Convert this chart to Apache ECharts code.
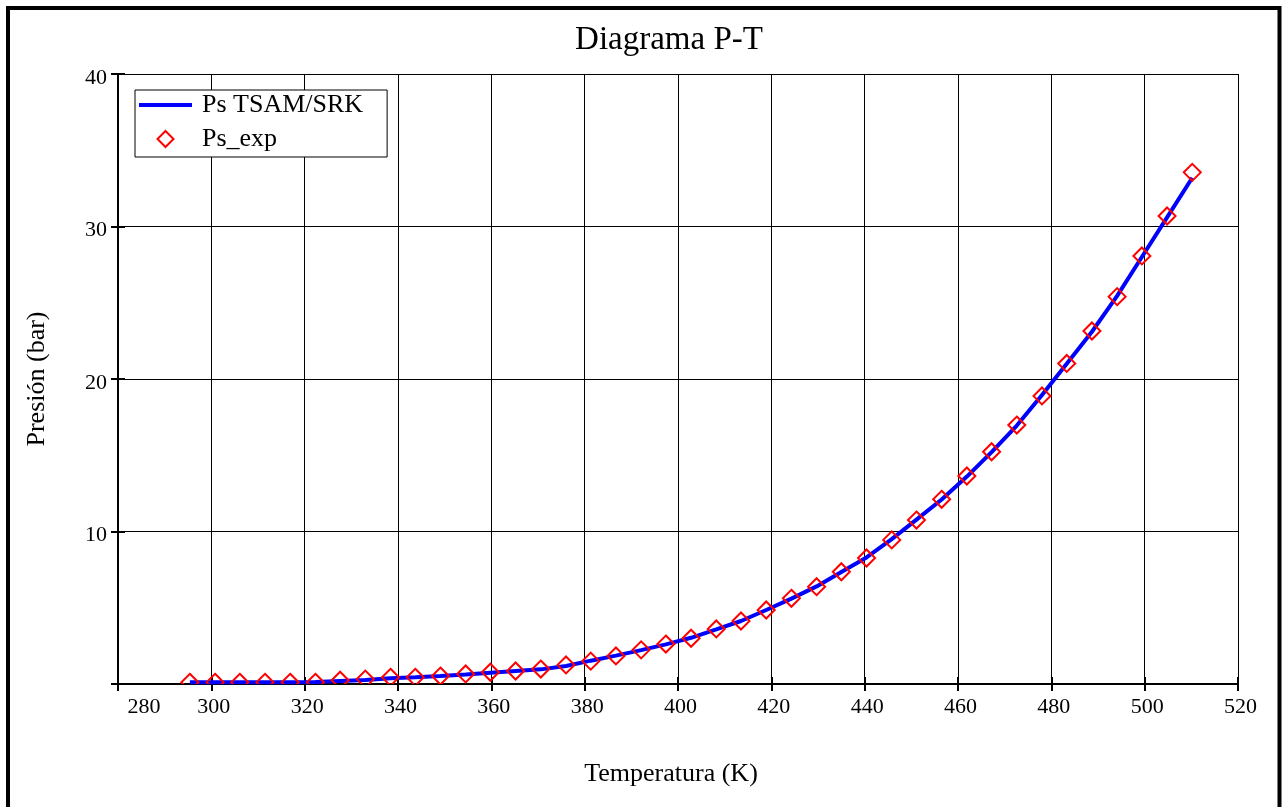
<!DOCTYPE html>
<html>
<head>
<meta charset="utf-8">
<script src="https://cdn.jsdelivr.net/npm/echarts@6/dist/echarts.min.js"></script>
<style>
html,body{margin:0;padding:0;background:#fff;}
#chart{width:1284px;height:807px;}
</style>
</head>
<body>
<div id="chart"></div>
<script>
// Temperatures (K)
const temps = [295.4, 300.8, 306.1, 311.5, 316.9, 322.3, 327.6, 333.0, 338.4, 343.7,
  349.1, 354.5, 359.8, 365.2, 370.6, 376.0, 381.3, 386.7, 392.1, 397.4,
  402.8, 408.2, 413.5, 418.9, 424.3, 429.7, 435.0, 440.4, 445.8, 451.1,
  456.5, 461.9, 467.2, 472.6, 478.0, 483.3, 488.7, 494.1, 499.4, 504.8, 510.2];
// Model saturation pressure (bar) - Ps TSAM/SRK
const psModel = [0.12, 0.12, 0.12, 0.12, 0.12, 0.13, 0.20, 0.27, 0.37, 0.44,
  0.52, 0.62, 0.74, 0.85, 0.96, 1.18, 1.53, 1.86, 2.22, 2.60,
  3.03, 3.58, 4.13, 4.85, 5.60, 6.40, 7.35, 8.30, 9.50, 10.78,
  12.10, 13.60, 15.20, 16.95, 18.95, 21.00, 23.10, 25.45, 28.00, 30.60, 33.20];
// Experimental saturation pressure (bar) - Ps_exp
const psExp = [0.11, 0.11, 0.11, 0.11, 0.11, 0.11, 0.25, 0.32, 0.44, 0.44,
  0.52, 0.66, 0.77, 0.85, 0.98, 1.25, 1.50, 1.84, 2.24, 2.62,
  3.00, 3.61, 4.13, 4.85, 5.62, 6.38, 7.36, 8.26, 9.45, 10.75,
  12.11, 13.64, 15.23, 16.98, 18.89, 21.02, 23.15, 25.40, 28.07, 30.69, 33.55];
const xTicks = [280, 300, 320, 340, 360, 380, 400, 420, 440, 460, 480, 500, 520];
const yTicks = [0, 10, 20, 30, 40];

const FONT = 'Liberation Serif';
const modelData = temps.map((t, i) => [t, psModel[i]]);
const expData = temps.map((t, i) => [t, psExp[i]]);

const chart = echarts.init(document.getElementById('chart'), null, {renderer: 'canvas'});
const option = {
  backgroundColor: '#ffffff',
  animation: false,
  title: {
    text: 'Diagrama P-T',
    left: 669,
    top: 24,
    padding: 0,
    textAlign: 'center',
    textStyle: {fontFamily: FONT, fontSize: 33, fontWeight: 'normal', color: '#000'}
  },
  legend: {
    orient: 'vertical',
    left: 135,
    top: 90,
    padding: [2, 24, 5, 2],
    itemGap: 8,
    itemWidth: 53,
    itemHeight: 16,
    borderColor: '#000',
    borderWidth: 1,
    backgroundColor: '#fff',
    textStyle: {fontFamily: FONT, fontSize: 26, color: '#000', padding: [0, 0, 0, 5]},
    data: [
      {name: 'Ps TSAM/SRK', lineStyle: {width: 4, color: '#0000ff'},
       itemStyle: {color: 'rgba(0,0,0,0)', borderColor: 'rgba(0,0,0,0)', borderWidth: 0}},
      {name: 'Ps_exp', icon: 'path://M0,-1L1,0L0,1L-1,0Z',
       itemStyle: {color: 'none', borderColor: '#ff0000', borderWidth: 2}}
    ]
  },
  grid: {left: 118, right: 46, top: 74, bottom: 123, containLabel: false},
  xAxis: [{
    type: 'value', min: xTicks[0], max: xTicks[xTicks.length - 1], interval: 20,
    name: 'Temperatura (K)', nameLocation: 'middle', nameGap: 77,
    nameTextStyle: {fontFamily: FONT, fontSize: 26, color: '#000', padding: [0, 14, 0, 0]},
    axisLine: {show: true, onZero: false, lineStyle: {color: '#000', width: 2}},
    axisTick: {show: true, inside: false, length: 7, lineStyle: {color: '#000', width: 2}},
    axisLabel: {fontFamily: FONT, fontSize: 22, color: '#000', margin: 12,
      formatter: v => (v === xTicks[0] ? '{f|' + v + '}' : '{n|' + v + '}'),
      rich: {
        f: {fontFamily: FONT, fontSize: 22, color: '#000', padding: [0, 0, 0, 52]},
        n: {fontFamily: FONT, fontSize: 22, color: '#000', padding: [0, 0, 0, 5]}
      }},
    splitLine: {show: true, lineStyle: {color: '#000', width: 1}}
  }, {
    type: 'value', min: xTicks[0], max: xTicks[xTicks.length - 1], interval: 20,
    position: 'bottom',
    axisLine: {show: false},
    axisTick: {show: true, inside: true, length: 7, lineStyle: {color: '#000', width: 2}},
    axisLabel: {show: false},
    splitLine: {show: false}
  }],
  yAxis: [{
    type: 'value', min: yTicks[0], max: yTicks[yTicks.length - 1], interval: 10,
    name: 'Presión (bar)', nameLocation: 'middle', nameGap: 68,
    nameTextStyle: {fontFamily: FONT, fontSize: 26, color: '#000'},
    axisLine: {show: true, onZero: false, lineStyle: {color: '#000', width: 2}},
    axisTick: {show: true, inside: false, length: 7, lineStyle: {color: '#000', width: 2}},
    axisLabel: {fontFamily: FONT, fontSize: 22, color: '#000', margin: 11,
      formatter: v => (v === 0 ? '' : '{n|' + v + '}'),
      rich: {n: {fontFamily: FONT, fontSize: 22, color: '#000', padding: [8, 0, 0, 0]}}},
    splitLine: {show: true, lineStyle: {color: '#000', width: 1}}
  }, {
    type: 'value', min: yTicks[0], max: yTicks[yTicks.length - 1], interval: 10,
    position: 'left',
    axisLine: {show: false},
    axisTick: {show: true, inside: true, length: 7, lineStyle: {color: '#000', width: 2}},
    axisLabel: {show: false},
    splitLine: {show: false}
  }],
  series: [{
    name: 'Ps TSAM/SRK',
    type: 'line',
    data: modelData,
    xAxisIndex: 0, yAxisIndex: 0,
    symbol: 'none',
    showSymbol: false,
    smooth: false,
    clip: true,
    lineStyle: {color: '#0000ff', width: 4},
    itemStyle: {color: '#0000ff'},
    z: 3
  }, {
    name: 'Ps_exp',
    type: 'custom',
    data: expData,
    xAxisIndex: 0, yAxisIndex: 0,
    clip: true,
    itemStyle: {color: '#ff0000'},
    renderItem: function (params, api) {
      const p = api.coord([api.value(0), api.value(1)]);
      const r = 8.5;
      return {
        type: 'polygon',
        shape: {points: [[p[0], p[1] - r], [p[0] + r, p[1]], [p[0], p[1] + r], [p[0] - r, p[1]]]},
        style: {fill: 'none', stroke: '#ff0000', lineWidth: 2}
      };
    },
    z: 4
  }],
  graphic: [{
    type: 'rect',
    shape: {x: 8, y: 8, width: 1271.5, height: 830},
    style: {fill: 'none', stroke: '#000', lineWidth: 4},
    silent: true,
    z: 100
  }]
};
chart.setOption(option);
</script>
</body>
</html>
